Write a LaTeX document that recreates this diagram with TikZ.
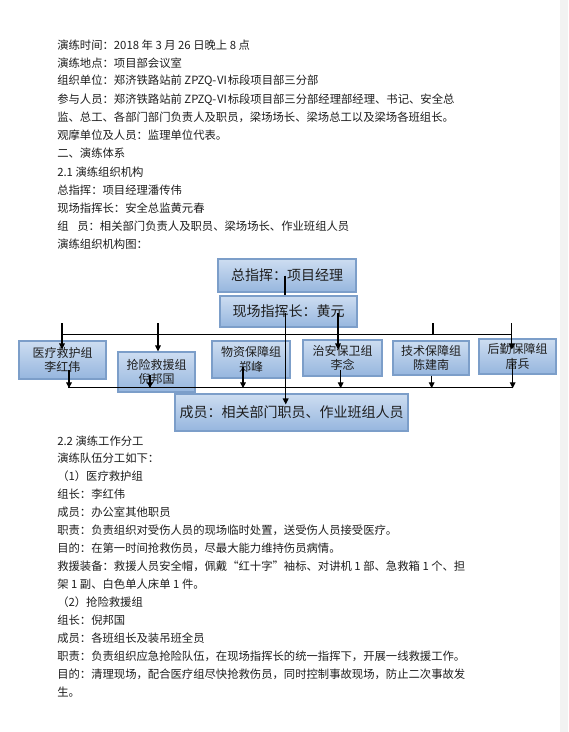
\documentclass[tikz,border=0pt]{standalone}
\usepackage{fontspec}
\setmainfont{Noto Sans CJK SC}
\usepackage{xcolor}
\usetikzlibrary{positioning,calc,arrows.meta}

\definecolor{boxtop}{RGB}{205,221,241}
\definecolor{boxbot}{RGB}{150,182,222}
\definecolor{boxline}{RGB}{124,158,201}
\definecolor{pagegray}{RGB}{242,242,242}
\definecolor{ink}{RGB}{30,30,30}

\tikzset{
  txt/.style={anchor=west, inner sep=0pt, text=ink, font=\fontsize{8.5}{10}\selectfont},
  bigbox/.style={draw=boxline, line width=0.8pt, top color=boxtop, bottom color=boxbot,
    inner sep=0pt, text=ink, font=\fontsize{10.5}{12}\selectfont},
  grpbox/.style={bigbox, align=center, font=\fontsize{9}{11}\selectfont},
  link/.style={line width=0.9pt},
  arr/.style={link, -{Triangle[length=4.5pt,width=4.2pt]}}
}

\begin{document}
\begin{tikzpicture}[x=0.75pt, y=-0.75pt]
    \useasboundingbox (0,0) rectangle (568,732);
    \fill[white] (0,0) rectangle (560,732);
    \fill[pagegray] (560,0) rectangle (568,732);

    % text above the chart
    \node[txt] (p1) at (57,45) {演练时间：2018 年 3 月 26 日晚上 8 点};
    \node[txt] (p2) at (57,63.1) {演练地点：项目部会议室};
    \node[txt] (p3) at (57,81.2) {组织单位：郑济铁路站前 ZPZQ-Ⅵ标段项目部三分部};
    \node[txt] (p4) at (57,99.3) {参与人员：郑济铁路站前 ZPZQ-Ⅵ标段项目部三分部经理部经理、书记、安全总};
    \node[txt] (p5) at (57,117.4) {监、总工、各部门部门负责人及职员，梁场场长、梁场总工以及梁场各班组长。};
    \node[txt] (p6) at (57,135.5) {观摩单位及人员：监理单位代表。};
    \node[txt] (p7) at (57,153.6) {二、演练体系};
    \node[txt] (p8) at (57,171.7) {2.1 演练组织机构};
    \node[txt] (p9) at (57,189.8) {总指挥：项目经理潘传伟};
    \node[txt] (p10) at (57,207.9) {现场指挥长：安全总监黄元春};
    \node[txt] (p11) at (57,226) {组\hspace{6.5pt}员：相关部门负责人及职员、梁场场长、作业班组人员};
    \node[txt] (p12) at (57,244.1) {演练组织机构图：};

    % chart boxes
    \node[bigbox, minimum width=103.5pt, minimum height=24.75pt] (zzh) at (287,275.5) {总指挥：项目经理};
    \node[bigbox, minimum width=102.75pt, minimum height=23.25pt] (xc) at (288.5,311.5) {现场指挥长：黄元};
    \node[grpbox, minimum width=65.25pt, minimum height=28.5pt] (yl) at (62.5,360) {医疗救护组\\李红伟};
    \node[grpbox, minimum width=57.75pt, minimum height=30pt] (qx) at (156.5,372) {抢险救援组\\倪邦国};
    \node[grpbox, minimum width=58.5pt, minimum height=27.75pt] (wz) at (251,359.5) {物资保障组\\郑峰};
    \node[grpbox, minimum width=59.25pt, minimum height=27pt] (za) at (342.5,358) {治安保卫组\\李念};
    \node[grpbox, minimum width=57pt, minimum height=25.5pt] (js) at (431,358) {技术保障组\\陈建南};
    \node[grpbox, minimum width=57.75pt, minimum height=26.25pt] (hq) at (517.5,356.5) {后勤保障组\\唐兵};
    \node[bigbox, minimum width=174.75pt, minimum height=27.75pt] (cy) at (291.5,412.5) {成员：相关部门职员、作业班组人员};

    % chief to site commander
    \draw[link] ([xshift=-1.5pt]zzh.center) -- ([xshift=-1.5pt]zzh.center |- xc.north);

    % upper bus and its drops
    \coordinate (tbus) at (62,334.3);
    \draw[link] (tbus) -- (511.7,334.3);
    \coordinate (t1) at (62,323);
    \coordinate (t2) at (158,323);
    \coordinate (t3) at (433,323);
    \coordinate (t4) at (511.7,323);
    \draw[arr] (t1) -- ($(t1 |- yl.north)+(0,9)$);
    \draw[arr] (t2) -- (t2 |- qx.north);
    \draw[link] (t3) -- (t3 |- tbus);
    \draw[arr] (t4) -- ($(t4 |- hq.north)+(0,11)$);
    \draw[link] ($(wz.north)+(-1,0)$ |- tbus) -- ($(wz.north)+(-1,0)$);
    \coordinate (s1) at ($(xc.center)+(-2.8,1.5)$);
    \coordinate (s2) at ($(xc.center)+(49.5,1.5)$);
    \draw[arr] (s1) -- ($(s1 |- cy.north)+(0,11)$);
    \draw[arr] (s2) -- ($(s2 |- za.north)+(0,10)$);

    % lower bus and the rises to it
    \coordinate (bbus) at (68,387.3);
    \draw[link] (bbus) -- (513.3,387.3);
    \coordinate (b1) at ($(yl.center)+(6.5,10)$);
    \coordinate (b2) at ($(qx.center)+(-6.5,3)$);
    \coordinate (b3) at ($(wz.center)+(-8,7.5)$);
    \coordinate (b4) at ($(za.center)+(-1.8,12)$);
    \coordinate (b5) at ($(js.south)+(0.7,0)$);
    \coordinate (b6) at ($(hq.center)+(-4.8,6.5)$);
    \foreach \b in {b1,b2,b3,b4,b5,b6}
      \draw[arr] (\b) -- ($(\b |- bbus)+(0,1)$);

    % text below the chart
    \node[txt] (q1) at (57,441) {2.2 演练工作分工};
    \node[txt] (q2) at (57,458.5) {演练队伍分工如下：};
    \node[txt] (q3) at (57,476.5) {（1）医疗救护组};
    \node[txt] (q4) at (57,494.3) {组长：李红伟};
    \node[txt] (q5) at (57,512) {成员：办公室其他职员};
    \node[txt] (q6) at (57,530) {职责：负责组织对受伤人员的现场临时处置，送受伤人员接受医疗。};
    \node[txt] (q7) at (57,548) {目的：在第一时间抢救伤员，尽最大能力维持伤员病情。};
    \node[txt] (q8) at (57,566) {救援装备：救援人员安全帽，佩戴“红十字”袖标、对讲机 1 部、急救箱 1 个、担};
    \node[txt] (q9) at (57,584) {架 1 副、白色单人床单 1 件。};
    \node[txt] (q10) at (57,602) {（2）抢险救援组};
    \node[txt] (q11) at (57,620) {组长：倪邦国};
    \node[txt] (q12) at (57,638) {成员：各班组长及装吊班全员};
    \node[txt] (q13) at (57,656) {职责：负责组织应急抢险队伍，在现场指挥长的统一指挥下，开展一线救援工作。};
    \node[txt] (q14) at (57,674) {目的：清理现场，配合医疗组尽快抢救伤员，同时控制事故现场，防止二次事故发};
    \node[txt] (q15) at (57,692) {生。};
\end{tikzpicture}
\end{document}
